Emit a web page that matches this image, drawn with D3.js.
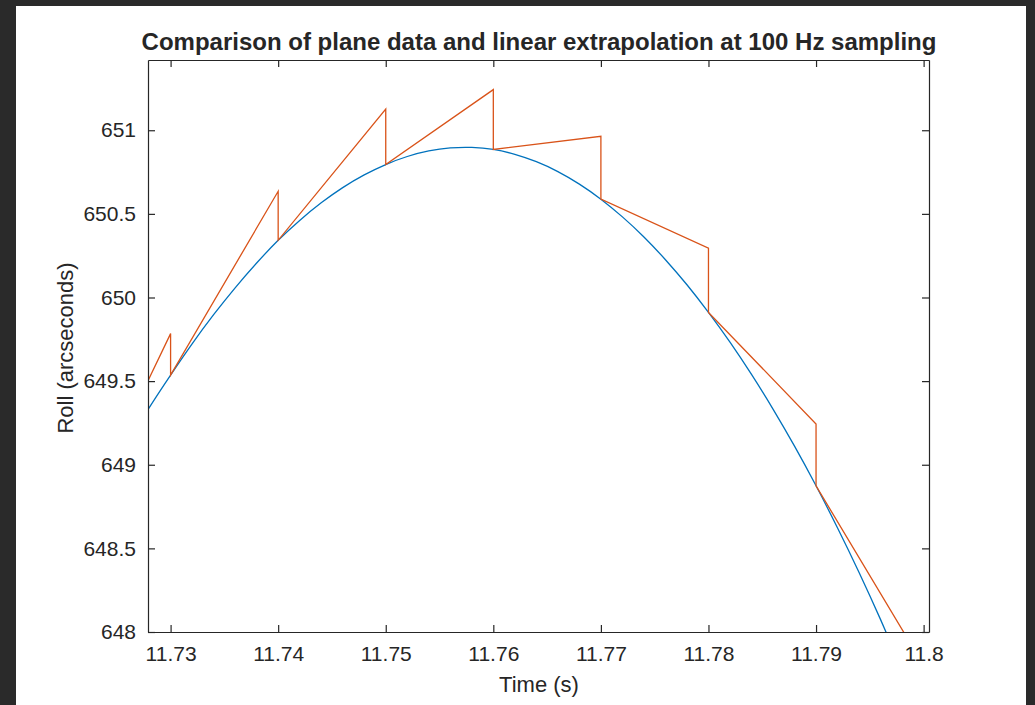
<!DOCTYPE html>
<html>
<head>
<meta charset="utf-8">
<script src="https://cdn.jsdelivr.net/npm/d3@7"></script>
<style>
  html, body { margin: 0; padding: 0; background: #2a2a2a; }
  svg { display: block; }
  text { font-family: "Liberation Sans", Arial, Helvetica, sans-serif; fill: #262626; }
</style>
</head>
<body>
<svg id="chart" width="1035" height="705"></svg>
<script>
// Plane roll measured densely (blue) and the 100 Hz linear extrapolation (orange)
const planeTime = [11.726, 11.728, 11.730, 11.732, 11.734, 11.736, 11.738,
  11.740, 11.742, 11.744, 11.746, 11.748, 11.750, 11.752, 11.754, 11.756, 11.758,
  11.760, 11.762, 11.764, 11.766, 11.768, 11.770, 11.772, 11.774, 11.776, 11.778,
  11.780, 11.782, 11.784, 11.786, 11.788, 11.790, 11.792, 11.794, 11.796, 11.798];
const planeRoll = [649.132, 649.340, 649.536, 649.723, 649.897, 650.058, 650.206,
  650.342, 650.461, 650.566, 650.657, 650.733, 650.795, 650.843, 650.876, 650.894, 650.897,
  650.885, 650.856, 650.812, 650.753, 650.678, 650.588, 650.482, 650.362, 650.226, 650.076,
  649.911, 649.733, 649.540, 649.333, 649.111, 648.874, 648.622, 648.356, 648.074, 647.778];

// Extrapolated roll: each sample projects forward linearly until the next sample resets it
const extrapTime = [11.72, 11.73, 11.73, 11.74, 11.74, 11.75, 11.75, 11.76, 11.76,
  11.77, 11.77, 11.78, 11.78, 11.79, 11.79, 11.80];
const extrapRoll = [648.44, 649.784, 649.536, 650.635, 650.342, 651.127, 650.795, 651.243, 650.885,
  650.964, 650.588, 650.295, 649.911, 649.244, 648.874, 647.80];

const xTicks = [11.73, 11.74, 11.75, 11.76, 11.77, 11.78, 11.79, 11.80];
const xTickLabels = ["11.73", "11.74", "11.75", "11.76", "11.77", "11.78", "11.79", "11.8"];
const yTicks = [648, 648.5, 649, 649.5, 650, 650.5, 651];
const yTickLabels = ["648", "648.5", "649", "649.5", "650", "650.5", "651"];

const xDomain = [11.7279, 11.8005];
const yDomain = [648, 651.42];

const svg = d3.select("#chart");
const W = 1035, H = 705;
const plot = { left: 148, right: 929, top: 60, bottom: 632 };

// dark frame and white figure
svg.append("rect").attr("width", W).attr("height", H).attr("fill", "#2a2a2a");
svg.append("rect").attr("x", 16).attr("y", 6).attr("width", 1010).attr("height", H - 6).attr("fill", "#ffffff");

const x = d3.scaleLinear().domain(xDomain).range([plot.left, plot.right]);
const y = d3.scaleLinear().domain(yDomain).range([plot.bottom, plot.top]);

svg.append("defs").append("clipPath").attr("id", "plotClip")
  .append("rect")
  .attr("x", plot.left).attr("y", plot.top)
  .attr("width", plot.right - plot.left).attr("height", plot.bottom - plot.top);

const line = d3.line().x(d => x(d[0])).y(d => y(d[1]));
const smooth = d3.line().x(d => x(d[0])).y(d => y(d[1])).curve(d3.curveNatural);

const lines = svg.append("g").attr("clip-path", "url(#plotClip)");
lines.append("path")
  .datum(planeTime.map((t, i) => [t, planeRoll[i]]))
  .attr("d", smooth)
  .attr("fill", "none").attr("stroke", "#0072BD").attr("stroke-width", 1.3);
lines.append("path")
  .datum(extrapTime.map((t, i) => [t, extrapRoll[i]]))
  .attr("d", line)
  .attr("fill", "none").attr("stroke", "#D95319").attr("stroke-width", 1.3)
  .attr("stroke-linejoin", "miter");

// axes with inward ticks on all four sides
const tickLen = 7;
const axisColor = "#262626";
const fmtX = d => xTickLabels[xTicks.indexOf(d)];
const fmtY = d => yTickLabels[yTicks.indexOf(d)];

const bottomAxis = svg.append("g").attr("transform", `translate(0,${plot.bottom})`)
  .call(d3.axisBottom(x).tickValues(xTicks).tickFormat(fmtX).tickSizeInner(-tickLen).tickSizeOuter(0).tickPadding(14));
const topAxis = svg.append("g").attr("transform", `translate(0,${plot.top})`)
  .call(d3.axisTop(x).tickValues(xTicks).tickFormat("").tickSizeInner(-tickLen).tickSizeOuter(0));
const leftAxis = svg.append("g").attr("transform", `translate(${plot.left},0)`)
  .call(d3.axisLeft(y).tickValues(yTicks).tickFormat(fmtY).tickSizeInner(-tickLen).tickSizeOuter(0).tickPadding(12));
const rightAxis = svg.append("g").attr("transform", `translate(${plot.right},0)`)
  .call(d3.axisRight(y).tickValues(yTicks).tickFormat("").tickSizeInner(-tickLen).tickSizeOuter(0));

[bottomAxis, topAxis, leftAxis, rightAxis].forEach(g => {
  g.select(".domain").attr("stroke", axisColor).attr("stroke-width", 1.2);
  g.selectAll(".tick line").attr("stroke", axisColor).attr("stroke-width", 1.2);
  g.selectAll(".tick text").attr("font-size", 21).attr("fill", axisColor)
    .attr("font-family", "'Liberation Sans', Arial, Helvetica, sans-serif");
});

// title and axis labels
svg.append("text")
  .attr("x", (plot.left + plot.right) / 2 + 0.5).attr("y", 49.5)
  .attr("text-anchor", "middle").attr("font-size", 24).attr("font-weight", "bold")
  .attr("fill", "#000")
  .text("Comparison of plane data and linear extrapolation at 100 Hz sampling");

svg.append("text")
  .attr("x", 539).attr("y", 692)
  .attr("text-anchor", "middle").attr("font-size", 22)
  .text("Time (s)");

svg.append("text")
  .attr("transform", "translate(73,348) rotate(-90)")
  .attr("text-anchor", "middle").attr("font-size", 22)
  .text("Roll (arcseconds)");
</script>
</body>
</html>
